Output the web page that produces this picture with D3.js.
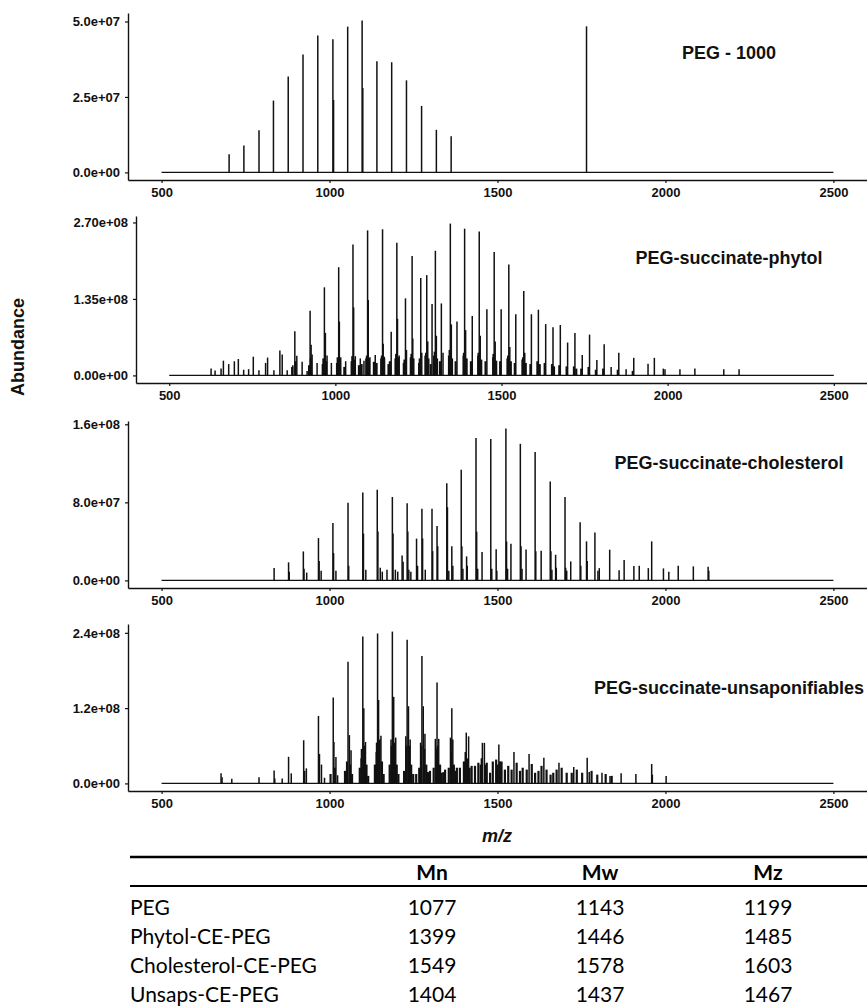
<!DOCTYPE html>
<html>
<head>
<meta charset="utf-8">
<script src="https://cdn.jsdelivr.net/npm/d3@7"></script>
<style>
  body { margin: 0; background: #fff; }
</style>
</head>
<body>
<div id="chart"></div>
<script>
// ---- data: [m/z, abundance] ----
const pegPeaks = [
  [701, 6.0e6], [745, 8.9e6], [790, 1.40e7], [833, 2.38e7], [877, 3.18e7], [921, 3.91e7],
  [965, 4.54e7], [1010, 4.41e7], [1012, 2.4e7], [1054, 4.83e7], [1097, 5.03e7], [1099, 2.8e7],
  [1141, 3.68e7], [1185, 3.65e7], [1229, 3.05e7], [1274, 2.2e7], [1318, 1.41e7], [1362, 1.2e7],
  [1765, 4.84e7]
];

const phytolPeaks = [
  [626, 1.2e7], [638, 8.8e6], [656, 1.2e7], [663, 2.6e7], [679, 2.0e7], [696, 2.5e7], [708, 2.9e7],
  [724, 1.0e7], [739, 1.1e7], [753, 3.3e7], [770, 9e6], [790, 2.2e7], [796, 3.15e7], [815, 9e6],
  [833, 4.4e7], [840, 3.7e7], [855, 9e6], [872, 1.8e7], [878, 7.8e7], [884, 3.45e7], [900, 2.4e7],
  [915, 8e6], [924, 1.14e8], [927, 5.4e7], [930, 3.7e7], [945, 2.2e7], [967, 1.555e8], [970, 7.5e7],
  [975, 3.5e7], [988, 2.2e7], [1010, 1.91e8], [1012, 9.5e7], [1016, 3.2e7], [1031, 2.5e7],
  [1053, 2.31e8], [1055, 1.2e8], [1060, 3.4e7], [1075, 3.0e7], [1086, 2.6e7], [1097, 2.56e8],
  [1099, 1.33e8], [1104, 3.2e7], [1120, 3.6e7], [1142, 2.58e8], [1144, 5.6e7], [1148, 3.0e7],
  [1168, 7.7e7], [1185, 2.34e8], [1187, 1.0e8], [1192, 3.5e7], [1211, 1.36e8], [1214, 4.5e7],
  [1231, 2.11e8], [1233, 6.5e7], [1257, 1.72e8], [1260, 4.0e7], [1275, 1.77e8], [1278, 6.0e7],
  [1291, 1.26e8], [1301, 2.2e8], [1304, 7.0e7], [1319, 1.27e8], [1324, 4.0e7], [1346, 2.68e8],
  [1349, 9.0e7], [1366, 9.5e7], [1389, 2.59e8], [1392, 8.0e7], [1412, 1.05e8], [1433, 2.54e8],
  [1436, 7.0e7], [1456, 1.17e8], [1478, 2.18e8], [1481, 6.0e7], [1499, 1.17e8], [1522, 1.96e8],
  [1525, 5.0e7], [1543, 1.08e8], [1567, 1.49e8], [1570, 4.0e7], [1590, 1.08e8], [1611, 1.16e8],
  [1633, 9.06e7], [1655, 8.5e7], [1677, 8.9e7], [1699, 5.8e7], [1721, 7.5e7], [1743, 3.6e7],
  [1765, 7.2e7], [1787, 2.7e7], [1809, 5.5e7], [1830, 1.5e7], [1853, 4.0e7], [1875, 1.1e7],
  [1898, 3.1e7], [1941, 2.05e7], [1960, 3.1e7], [1987, 1.2e7], [1992, 1.1e7], [2037, 1.1e7],
  [2082, 1.2e7], [2169, 1.1e7], [2215, 1.1e7]
];

const phytolCluster = [
  [870, 1.5e7], [880, 2.5e7], [921, 1.8e7], [926, 3.0e7], [962, 2.0e7], [964, 3.0e7], [972, 2.5e7],
  [1005, 2.2e7], [1007, 3.2e7], [1014, 2.6e7], [1027, 1.5e7], [1049, 2.5e7], [1051, 3.4e7],
  [1057, 2.8e7], [1071, 1.8e7], [1079, 2.0e7], [1093, 3.0e7], [1095, 3.5e7], [1101, 3.0e7],
  [1116, 2.4e7], [1124, 2.2e7], [1138, 3.0e7], [1140, 3.5e7], [1146, 3.3e7], [1160, 2.0e7],
  [1164, 2.5e7], [1181, 3.0e7], [1183, 3.8e7], [1190, 3.2e7], [1206, 2.2e7], [1208, 2.8e7],
  [1227, 3.2e7], [1229, 3.8e7], [1235, 3.0e7], [1252, 2.2e7], [1254, 3.0e7], [1271, 3.5e7],
  [1273, 4.0e7], [1280, 3.0e7], [1287, 2.0e7], [1297, 3.5e7], [1299, 4.2e7], [1306, 3.0e7],
  [1315, 2.5e7], [1342, 3.5e7], [1344, 4.5e7], [1351, 3.0e7], [1362, 2.5e7], [1386, 3.5e7],
  [1387, 4.0e7], [1395, 3.0e7], [1408, 2.5e7], [1430, 3.5e7], [1431, 4.0e7], [1439, 2.8e7],
  [1452, 2.5e7], [1475, 3.2e7], [1476, 3.8e7], [1484, 2.6e7], [1496, 2.5e7], [1518, 3.0e7],
  [1520, 3.5e7], [1528, 2.5e7], [1540, 2.2e7], [1563, 2.8e7], [1565, 3.2e7], [1573, 2.2e7],
  [1587, 2.0e7], [1608, 2.5e7], [1615, 2.0e7], [1630, 2.2e7], [1652, 2.0e7], [1658, 1.6e7],
  [1674, 1.8e7], [1696, 1.6e7], [1718, 1.6e7], [1725, 1.2e7], [1740, 1.2e7], [1762, 1.5e7],
  [1784, 1.0e7], [1806, 1.2e7], [1850, 1.0e7], [1895, 8e6]
];

const cholPeaks = [
  [835, 1.26e7], [878, 1.85e7], [880, 9e6], [922, 2.97e7], [924, 1.2e7], [932, 8e6], [967, 4.34e7],
  [969, 2.0e7], [975, 1.0e7], [1010, 5.88e7], [1012, 2.8e7], [1019, 1.0e7], [1055, 7.97e7],
  [1057, 1.5e7], [1099, 9.0e7], [1101, 4.8e7], [1108, 1.1e7], [1142, 9.3e7], [1144, 5.0e7],
  [1151, 1.3e7], [1157, 9e6], [1171, 1.1e7], [1187, 8.55e7], [1189, 4.8e7], [1196, 1.1e7],
  [1203, 9e6], [1216, 2.56e7], [1219, 1.9e7], [1231, 7.9e7], [1233, 5.0e7], [1236, 1.1e7],
  [1242, 9e6], [1259, 4.28e7], [1262, 1.5e7], [1275, 7.35e7], [1277, 4.3e7], [1285, 1.1e7],
  [1305, 7.35e7], [1307, 3.0e7], [1320, 5.57e7], [1322, 3.5e7], [1349, 9.95e7], [1351, 7.5e7],
  [1355, 1.0e7], [1364, 3.5e7], [1367, 1.5e7], [1392, 1.135e8], [1394, 3.5e7], [1397, 1.2e7],
  [1408, 2.46e7], [1410, 1.5e7], [1436, 1.46e8], [1438, 5.0e7], [1441, 1.2e7], [1454, 2.9e7],
  [1480, 1.45e8], [1483, 1.2e7], [1496, 3.2e7], [1498, 1.0e7], [1525, 1.556e8], [1527, 4.0e7],
  [1530, 1.2e7], [1540, 3.76e7], [1568, 1.40e8], [1570, 3.5e7], [1573, 1.2e7], [1585, 3.18e7],
  [1612, 1.316e8], [1614, 3.0e7], [1630, 3.04e7], [1657, 1.015e8], [1659, 3.0e7], [1662, 1.1e7],
  [1673, 2.63e7], [1675, 1.3e7], [1701, 8.54e7], [1703, 1.3e7], [1706, 1.0e7], [1718, 1.95e7],
  [1746, 5.95e7], [1748, 1.5e7], [1765, 4.0e7], [1767, 2.0e7], [1790, 4.9e7], [1799, 1.0e7],
  [1803, 1.26e7], [1834, 3.15e7], [1862, 1.03e7], [1877, 2.08e7], [1906, 1.47e7], [1922, 1.5e7],
  [1949, 1.26e7], [1959, 4.0e7], [1994, 1.23e7], [2010, 9e6], [2038, 1.5e7], [2083, 1.44e7],
  [2127, 1.4e7], [2129, 1.0e7]
];

const unsapPeaks = [
  [677, 1.6e7], [680, 1.0e7], [709, 7.4e6], [790, 1.0e7], [835, 2.07e7], [837, 8e6], [859, 8e6],
  [878, 4.24e7], [886, 1.6e7], [923, 6.88e7], [926, 2.0e7], [931, 2.4e7], [967, 1.076e8],
  [970, 4.7e7], [976, 3.0e7], [985, 9e6], [1011, 1.37e8], [1013, 6.6e7], [1019, 4.2e7],
  [1024, 1.3e7], [1050, 1.5e7], [1055, 1.94e8], [1059, 7.7e7], [1064, 5.3e7], [1094, 4.0e7],
  [1099, 2.34e8], [1102, 1.2e8], [1107, 6.6e7], [1139, 5.0e7], [1143, 2.39e8], [1146, 1.33e8],
  [1153, 7.6e7], [1183, 7.0e7], [1187, 2.42e8], [1191, 1.38e8], [1197, 7.3e7], [1227, 7.5e7],
  [1231, 2.29e8], [1235, 1.23e8], [1240, 7.0e7], [1271, 6.5e7], [1275, 2.03e8], [1279, 1.23e8],
  [1284, 7.9e7], [1315, 7.1e7], [1320, 1.61e8], [1325, 7.1e7], [1360, 7.3e7], [1364, 1.2e8],
  [1367, 7.0e7], [1407, 8.1e7], [1414, 7.5e7], [1455, 6.47e7], [1461, 6.47e7], [1504, 6.2e7],
  [1549, 5.0e7], [1594, 4.7e7], [1638, 4.1e7], [1683, 3.3e7], [1727, 2.6e7], [1767, 4.1e7],
  [1773, 1.8e7], [1811, 1.7e7], [1835, 1.2e7], [1868, 1.6e7], [1912, 1.5e7], [1959, 3.1e7],
  [1961, 1.4e7], [2002, 1.2e7]
];

const unsapCluster = [
  [1003, 1.5e7], [1016, 2.5e7], [1046, 2.0e7], [1052, 3.5e7], [1061, 3.0e7], [1067, 1.5e7],
  [1090, 2.5e7], [1096, 5.5e7], [1104, 6.0e7], [1110, 3.0e7], [1115, 1.2e7], [1135, 3.0e7],
  [1141, 6.5e7], [1149, 7.0e7], [1156, 3.5e7], [1161, 1.5e7], [1179, 3.0e7], [1185, 6.0e7],
  [1194, 6.5e7], [1200, 3.0e7], [1205, 1.5e7], [1222, 2.0e7], [1229, 6.0e7], [1237, 6.0e7],
  [1243, 3.0e7], [1249, 1.5e7], [1258, 1.5e7], [1267, 2.5e7], [1273, 6.0e7], [1282, 5.5e7],
  [1288, 3.0e7], [1293, 1.8e7], [1299, 2.0e7], [1310, 2.5e7], [1318, 5.5e7], [1322, 6.0e7],
  [1329, 3.0e7], [1334, 1.7e7], [1339, 1.8e7], [1344, 2.2e7], [1355, 2.5e7], [1362, 5.0e7],
  [1370, 3.0e7], [1375, 2.0e7], [1379, 2.5e7], [1388, 2.5e7], [1400, 3.5e7], [1405, 5.0e7],
  [1411, 4.0e7], [1417, 2.5e7], [1423, 2.8e7], [1433, 2.8e7], [1443, 3.3e7], [1450, 3.0e7],
  [1453, 4.0e7], [1464, 3.0e7], [1468, 3.3e7], [1478, 1.7e7], [1486, 3.5e7], [1496, 3.8e7],
  [1500, 3.0e7], [1507, 3.5e7], [1512, 3.5e7], [1522, 2.2e7], [1532, 2.8e7], [1542, 2.2e7],
  [1557, 3.3e7], [1567, 2.0e7], [1575, 2.5e7], [1587, 2.2e7], [1602, 3.1e7], [1612, 1.7e7],
  [1622, 2.0e7], [1631, 2.8e7], [1646, 2.2e7], [1658, 1.4e7], [1666, 1.7e7], [1676, 2.2e7],
  [1691, 2.5e7], [1706, 1.7e7], [1721, 1.7e7], [1736, 2.2e7], [1752, 1.7e7], [1780, 2.0e7],
  [1797, 1.4e7], [1822, 1.5e7], [1840, 1.2e7]
];

const panelNames = ["PEG - 1000", "PEG-succinate-phytol", "PEG-succinate-cholesterol", "PEG-succinate-unsaponifiables"];
const yTickValues = [[0, 2.5e7, 5.0e7], [0, 1.35e8, 2.70e8], [0, 8.0e7, 1.6e8], [0, 1.2e8, 2.4e8]];
const yTickDigits = [1, 2, 1, 1];
const xTickValues = [500, 1000, 1500, 2000, 2500];
const baselineRange = [500, 2500];

const tableCols = ["Mn", "Mw", "Mz"];
const tableRows = ["PEG", "Phytol-CE-PEG", "Cholesterol-CE-PEG", "Unsaps-CE-PEG"];
const mnValues = [1077, 1399, 1549, 1404];
const mwValues = [1143, 1446, 1578, 1437];
const mzValues = [1199, 1485, 1603, 1467];

// ---- layout ----
const width = 867, height = 1007;
const panelTop = [13, 216, 421, 624];
const panelH = 167;
const axisLeft = [128, 136, 128, 128];
const titleY = [59, 264, 469, 694];
const titleX = 729;
const labelFont = "'Liberation Sans', Arial, sans-serif";

// main peaks and the dense low-level clusters around them
const spectra = [
  {main: pegPeaks, cluster: []},
  {main: phytolPeaks, cluster: phytolCluster},
  {main: cholPeaks, cluster: []},
  {main: unsapPeaks, cluster: unsapCluster}
];

const svg = d3.select("#chart")
  .append("svg")
  .attr("width", width)
  .attr("height", height)
  .style("font-family", labelFont);

// ggplot-style scientific labels: 5.0e+07
function sci(v, digits) {
  return v.toExponential(digits).replace(/e([+-])(\d)$/, "e$10$2");
}

spectra.forEach(function(s, i) {
  const top = panelTop[i], bottom = top + panelH;
  const ymax = d3.max(s.main.concat(s.cluster), d => d[1]);

  const x = d3.scaleLinear()
    .domain([400, 2600])
    .range([axisLeft[i], width]);
  const y = d3.scaleLinear()
    .domain([-0.05 * ymax, 1.05 * ymax])
    .range([bottom, top]);

  const g = svg.append("g");

  // zero baseline of the spectrum
  g.append("line")
    .attr("x1", x(baselineRange[0]))
    .attr("x2", x(baselineRange[1]))
    .attr("y1", y(0))
    .attr("y2", y(0))
    .attr("stroke", "#111")
    .attr("stroke-width", 1.3);

  g.selectAll(".cluster")
    .data(s.cluster)
    .enter()
    .append("line")
    .attr("class", "cluster")
    .attr("x1", d => x(d[0]))
    .attr("x2", d => x(d[0]))
    .attr("y1", y(0))
    .attr("y2", d => y(d[1]))
    .attr("stroke", "#111")
    .attr("stroke-width", 2.2);

  g.selectAll(".peak")
    .data(s.main)
    .enter()
    .append("line")
    .attr("class", "peak")
    .attr("x1", d => x(d[0]))
    .attr("x2", d => x(d[0]))
    .attr("y1", y(0))
    .attr("y2", d => y(d[1]))
    .attr("stroke", "#111")
    .attr("stroke-width", 1.5);

  const xAxis = g.append("g")
    .attr("transform", "translate(0," + bottom + ")")
    .call(d3.axisBottom(x).tickValues(xTickValues).tickSize(3).tickSizeOuter(0).tickPadding(4.5)
      .tickFormat(d3.format("d")));
  const yAxis = g.append("g")
    .attr("transform", "translate(" + axisLeft[i] + ",0)")
    .call(d3.axisLeft(y).tickValues(yTickValues[i]).tickSize(3).tickSizeOuter(0).tickPadding(5)
      .tickFormat(v => sci(v, yTickDigits[i])));

  [xAxis, yAxis].forEach(function(a) {
    a.select(".domain").attr("stroke", "#111").attr("stroke-width", 1.4);
    a.selectAll(".tick line").attr("stroke", "#111").attr("stroke-width", 1.2);
    a.selectAll(".tick text")
      .attr("fill", "#111")
      .style("font-family", labelFont)
      .style("font-weight", "bold")
      .style("font-size", "13px");
  });

  g.append("text")
    .attr("x", titleX)
    .attr("y", titleY[i])
    .attr("text-anchor", "middle")
    .attr("fill", "#111")
    .style("font-weight", "bold")
    .style("font-size", "18px")
    .text(panelNames[i]);
});

// axis titles
svg.append("text")
  .attr("transform", "translate(24,347) rotate(-90)")
  .attr("text-anchor", "middle")
  .attr("fill", "#111")
  .style("font-weight", "bold")
  .style("font-size", "18px")
  .text("Abundance");

svg.append("text")
  .attr("x", 497)
  .attr("y", 842)
  .attr("text-anchor", "middle")
  .attr("fill", "#111")
  .style("font-weight", "bold")
  .style("font-style", "italic")
  .style("font-size", "18px")
  .text("m/z");

// ---- molecular weight table ----
const tableFont = "Lato, 'Open Sans', sans-serif";
const colX = d3.scalePoint().domain(tableCols).range([432, 768]);
const rowY = d3.scalePoint().domain(tableRows).range([915, 1002]);
const tableValues = [mnValues, mwValues, mzValues];
const table = svg.append("g").style("font-family", tableFont).style("font-size", "21px");

table.append("line")
  .attr("x1", 130).attr("x2", width)
  .attr("y1", 857).attr("y2", 857)
  .attr("stroke", "#000").attr("stroke-width", 2.5);
table.append("line")
  .attr("x1", 130).attr("x2", width)
  .attr("y1", 886).attr("y2", 886)
  .attr("stroke", "#000").attr("stroke-width", 2);

table.selectAll(".head")
  .data(tableCols)
  .enter()
  .append("text")
  .attr("class", "head")
  .attr("x", d => colX(d))
  .attr("y", 880)
  .attr("text-anchor", "middle")
  .style("font-weight", "bold")
  .text(d => d);

table.selectAll(".rowname")
  .data(tableRows)
  .enter()
  .append("text")
  .attr("class", "rowname")
  .attr("x", 130)
  .attr("y", d => rowY(d))
  .text(d => d);

tableCols.forEach(function(col, c) {
  table.selectAll(".val" + c)
    .data(tableValues[c])
    .enter()
    .append("text")
    .attr("class", "val" + c)
    .attr("x", colX(col))
    .attr("y", (d, r) => rowY(tableRows[r]))
    .attr("text-anchor", "middle")
    .text(d => d);
});
</script>
</body>
</html>
